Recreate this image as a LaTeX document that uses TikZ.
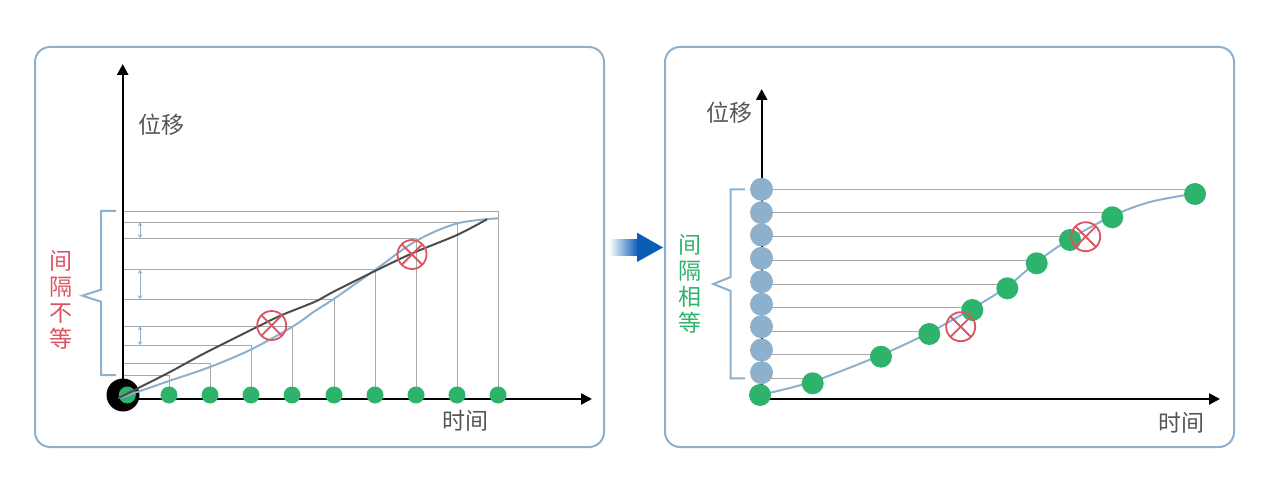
\documentclass[tikz,border=0pt]{standalone}
\usepackage{fontspec}
\newfontfamily\cjk{Noto Sans CJK SC}
\usetikzlibrary{arrows.meta}
\definecolor{frameblue}{HTML}{8DB0CD}
\definecolor{dotgreen}{HTML}{2EB36C}
\definecolor{xred}{HTML}{DE5360}
\definecolor{gridgray}{HTML}{A8A8A8}
\definecolor{txtgray}{HTML}{555555}
\definecolor{darkline}{HTML}{4D4D4D}
\definecolor{arrowblue}{HTML}{0A5DB5}
\begin{document}
\begin{tikzpicture}[x=1pt,y=-1pt,
  panel/.style={draw=frameblue,line width=2pt,rounded corners=15pt},
  gridline/.style={draw=gridgray,line width=0.9pt},
  axisline/.style={draw=black,line width=2.4pt,-{Triangle[length=11pt,width=11pt]}},
  gdot/.style={circle,fill=dotgreen,inner sep=0pt,minimum size=17pt},
  bigdot/.style={circle,fill=dotgreen,inner sep=0pt,minimum size=22pt},
  bdot/.style={circle,fill=frameblue,inner sep=0pt,minimum size=23pt},
  curveline/.style={draw=frameblue,line width=2pt},
  brace/.style={draw=frameblue,line width=2pt},
  gap/.style={draw=frameblue,line width=0.9pt,{Stealth[length=4pt,width=4.5pt]}-{Stealth[length=4pt,width=4.5pt]}},
  xmark/.style={circle,draw=xred,line width=1.8pt,minimum size=29pt,inner sep=0pt,
    path picture={\draw[xred,line width=1.8pt]
      (path picture bounding box.north west)--(path picture bounding box.south east)
      (path picture bounding box.north east)--(path picture bounding box.south west);}},
  lbl/.style={font=\cjk\fontsize{23}{23}\selectfont,text=txtgray,inner sep=0pt},
  vlbl/.style={font=\cjk\fontsize{23}{25.8}\selectfont,align=center,inner sep=0pt}
]
\useasboundingbox (0,0) rectangle (1269,489);
% panels
\draw[panel] (35,47) rectangle (604,447);
\draw[panel] (665,47) rectangle (1234,447);

% ---------------- left panel ----------------
\foreach \x/\y in {169/375, 210/363.7, 251/345.3, 292/326.3, 334/299.3, 375/269.7, 416/238.3, 457/222.3, 498/211.7}
  {\draw[gridline] (122,\y) -- (\x,\y) -- (\x,395);}
\draw[gap] (140,222.3) -- (140,238.3);
\draw[gap] (140,269.7) -- (140,299.3);
\draw[gap] (140,326.3) -- (140,345.3);
\draw[axisline] (122.7,399) -- (122.7,64);
\draw[axisline] (121,399) -- (592,399);
\node[circle,fill=black,inner sep=0pt,minimum size=33pt] (L0b) at (123,395) {};
\node[gdot] (L0) at (127.3,395) {};
\foreach \x [count=\i] in {169,210,251,292,334,375,416,457,498}
  {\node[gdot] (L\i) at (\x,395) {};}
\draw[curveline] plot[smooth,tension=0.55] coordinates {(120,398) (169,381) (210,367) (251,349.5) (292,327) (315,311) (333,299.5) (375,270) (416,241) (457,223.5) (498,218.3)};
\draw[darkline,line width=2pt] plot[smooth,tension=0.5] coordinates {(118,398.3) (168,373) (205,353) (255,328) (282,315) (315,301.7) (333,292) (377,270) (413,253) (457,235) (487,219.3)};
\node[xmark] (LX1) at (271.7,325.5) {};
\node[xmark] (LX2) at (412,254.5) {};
\node[lbl] (LY) at (161.5,125) {位移};
\node[lbl] (LT) at (465,420.5) {时间};
\draw[brace] (116,211) -- (101,211) -- (101,289.7) -- (82.3,295.7) -- (101,301.7) -- (101,375) -- (116,375);
\node[vlbl,text=xred] (LB) at (61,300) {间\\隔\\不\\等};

% ---------------- middle arrow ----------------
\shade[left color=white,right color=arrowblue] (609,240) rectangle (638,255);
\fill[arrowblue] (637,240) -- (637,232.7) -- (663,247.5) -- (637,262) -- (637,255) -- cycle;

% ---------------- right panel ----------------
\foreach \y/\x in {189.3/1190, 212.7/1110, 236/1070, 260/1036, 284/1005, 307/970, 331/929, 354/880, 378.3/812}
  {\draw[gridline] (761,\y) -- (\x,\y);}
\draw[axisline] (761.7,399) -- (761.7,89);
\draw[axisline] (760,399) -- (1220,399);
\draw[curveline] plot[smooth,tension=0.55] coordinates {(760,395) (812.7,381.5) (881,355) (929.3,332.5) (972.3,308.5) (1007.3,286.5) (1036.7,262) (1070,239) (1112.3,216) (1150,202) (1195,193.5)};
\foreach \y [count=\i] in {189.3,212.7,235,258.3,281.7,304.3,326.7,350,372.7}
  {\node[bdot] (B\i) at (761.5,\y) {};}
\node[bigdot] (R0) at (760,395) {};
\foreach \x/\y [count=\i] in {812.7/383.3, 881/356.7, 929.3/334, 972.3/310, 1007.3/288.3, 1036.7/263.3, 1070/240, 1112.3/217.3, 1195/194}
  {\node[bigdot] (R\i) at (\x,\y) {};}
\node[xmark] (RX1) at (960.7,326.7) {};
\node[xmark] (RX2) at (1085.7,236.7) {};
\node[lbl] (RY) at (729,112.5) {位移};
\node[lbl] (RT) at (1181,423) {时间};
\draw[brace] (745,189.3) -- (730.7,189.3) -- (730.7,277) -- (713.3,284) -- (730.7,291) -- (730.7,378.3) -- (745,378.3);
\node[vlbl,text=dotgreen] (RB) at (690,284) {间\\隔\\相\\等};
\end{tikzpicture}
\end{document}
